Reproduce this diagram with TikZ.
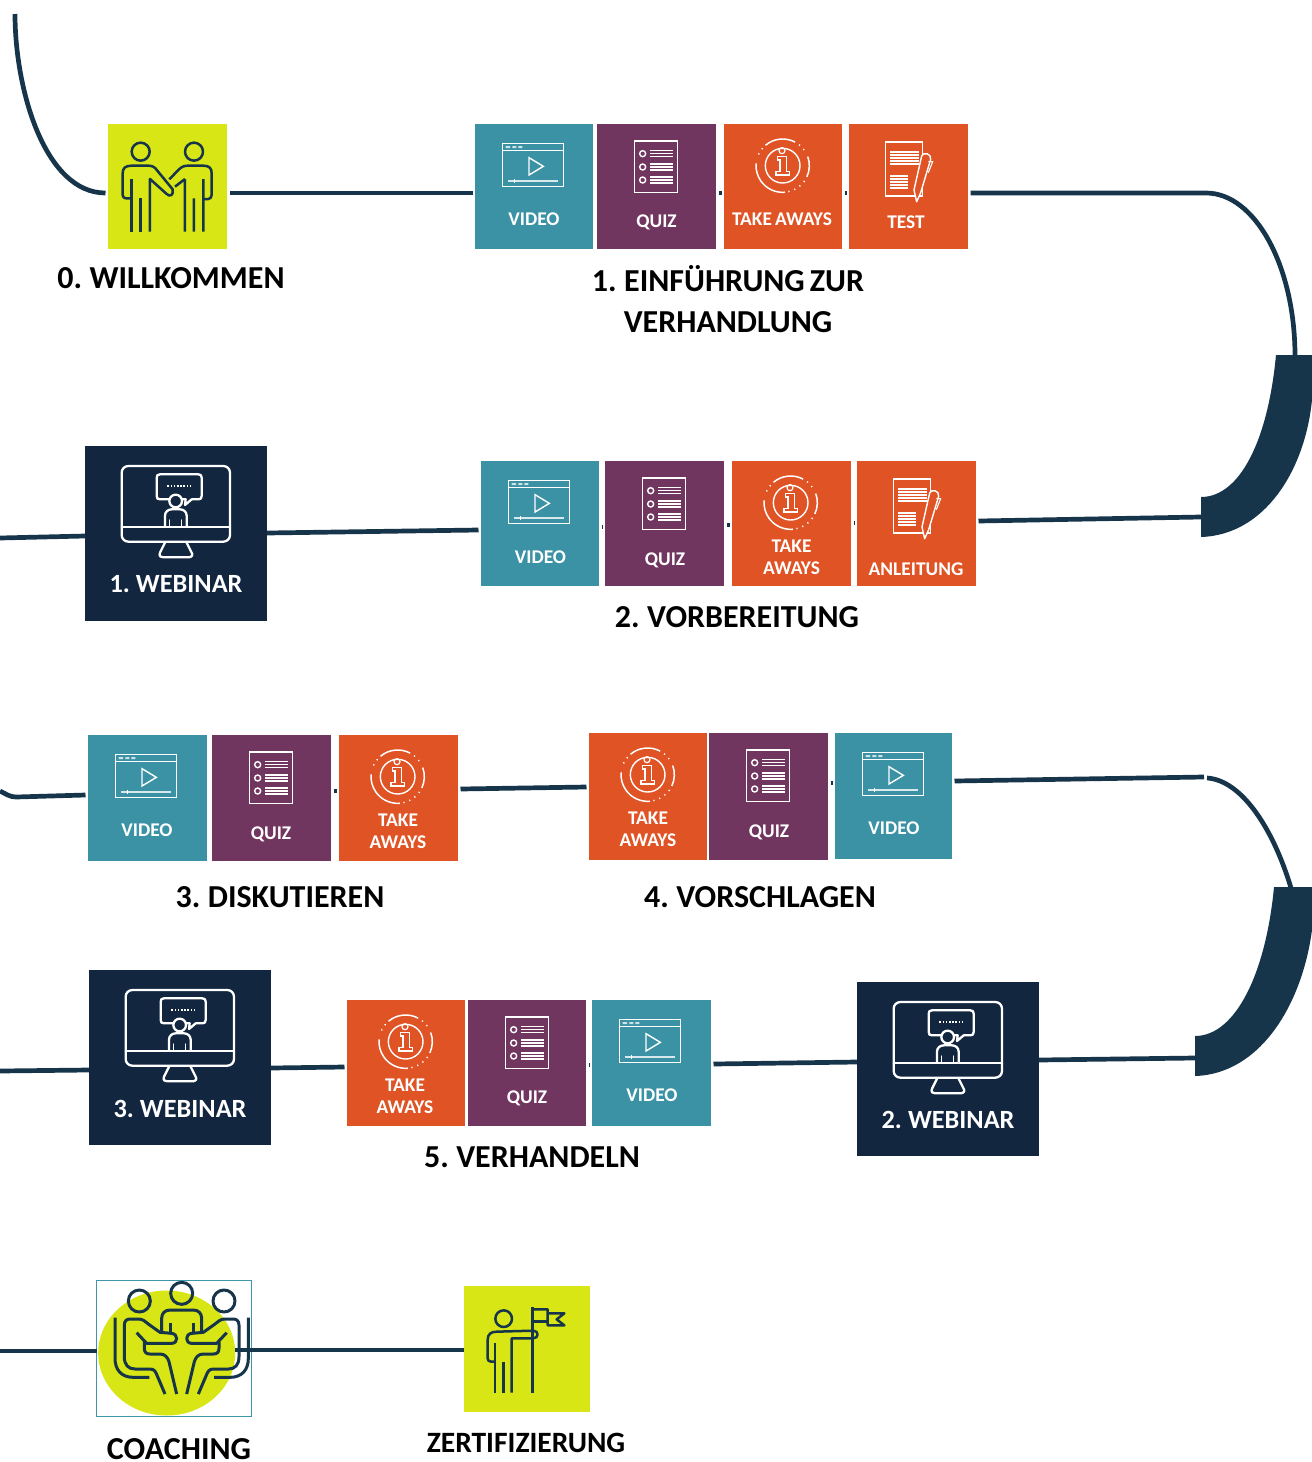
\documentclass[tikz,border=0pt]{standalone}
\usepackage{fontspec}
\setmainfont[WordSpace=0.7]{Carlito}
\usetikzlibrary{calc,shapes.geometric}
\definecolor{cline}{HTML}{17354A}
\definecolor{cvideo}{HTML}{3A92A4}
\definecolor{cquiz}{HTML}{71365F}
\definecolor{corange}{HTML}{E05324}
\definecolor{cdark}{HTML}{12263F}
\definecolor{clime}{HTML}{D7E614}
\definecolor{cframe}{HTML}{3E97A8}
\tikzset{
  tilebox/.style={inner sep=0pt,outer sep=2.5pt,minimum width=#1},
  tilebox/.default=119pt,
  flush/.style={outer sep=0pt},
  conn/.style={draw=cline,line width=4.7pt},
  wedge/.style={fill=cline},
  ticon/.style={draw=white,line width=1.4pt,line join=miter},
  wicon/.style={draw=white,line width=2.3pt,line join=round,line cap=round},
  dicon/.style={draw=cline,line width=2.5pt,line join=round},
  cicon/.style={draw=cline,line width=3pt,line join=round},
  head/.style={font=\fontsize{32}{41}\selectfont\bfseries,text=black,inner sep=0pt,align=center},
  tlab/.style={font=\fontsize{19.4}{22}\selectfont\bfseries,text=white,inner sep=0pt,align=center},
  wlab/.style={font=\fontsize{26.3}{28}\selectfont\bfseries,text=white,inner sep=0pt},
}
% name, x, y, w, h, colour, extra options
\newcommand{\tilerect}[7][]{\node[tilebox=#5pt,minimum height=#6pt,fill=#7,#1] (#2) at ({#3+#5/2},{#4+#6/2}) {};}
\newcommand{\iconvideo}[2]{\begin{scope}[shift={({#1-5},{#2-4})},scale=0.33333]
  \draw[ticon] (97,70) rectangle (281,199);
  \draw[ticon] (97,92) -- (281,92);
  \fill[white,opacity=.75] (107,78) rectangle (120,84) (127,78) rectangle (139,84) (145,78) rectangle (157,84);
  \draw[ticon] (177,113) -- (177,165) -- (220,139) -- cycle;
  \draw[ticon,opacity=.8,line width=1.7pt] (115,182) -- (265,182);
  \draw[ticon,line width=1.2pt] (133,176) -- (133,189);
\end{scope}}
\newcommand{\iconquiz}[2]{\begin{scope}[shift={({#1-127},{#2-4})},scale=0.33333]
  \draw[ticon] (493,63) rectangle (623,217);
  \foreach \yy in {101,141,180}{
    \draw[ticon] (518,\yy) circle[radius=9];
    \foreach \dd in {-9,0,9}{\draw[white,line width=1.5pt] (540,{\yy+\dd}) -- (609,{\yy+\dd});}
  }
\end{scope}}
\newcommand{\icontake}[2]{\begin{scope}[shift={({#1-254},{#2-4})},scale=0.33333]
  \draw[ticon] (938,137) circle[radius=52];
  \draw[white,line width=1.5pt] (938,137) ++(-130:80) arc[start angle=-130,end angle=-62,radius=80];
  \draw[white,line width=1.5pt] (938,137) ++(-20:80) arc[start angle=-20,end angle=25,radius=80];
  \draw[white,line width=1.5pt] (938,137) ++(85:80) arc[start angle=85,end angle=185,radius=80];
  \draw[white,line width=1.5pt,dash pattern=on 1.2pt off 5pt] (938,137) ++(-52:80) arc[start angle=-52,end angle=-28,radius=80];
  \draw[white,line width=1.5pt,dash pattern=on 1.2pt off 5pt] (938,137) ++(35:80) arc[start angle=35,end angle=80,radius=80];
  \draw[white,line width=1.5pt,dash pattern=on 1.2pt off 5pt] (938,137) ++(-155:80) arc[start angle=-155,end angle=-135,radius=80];
  \draw[ticon,line width=1.2pt] (936,92) circle[radius=9];
  \draw[ticon,line width=1.2pt] (923,110) -- (950,110) -- (950,155) -- (958,155) -- (958,165) -- (918,165) -- (918,155) -- (930,155) -- (930,120) -- (923,120) -- cycle;
\end{scope}}
\newcommand{\icontest}[3]{\begin{scope}[shift={({#1-379},{#2-4})},scale=0.33333]
  \draw[ticon] (1247,66) rectangle (1358,228);
  \foreach \yy in {96,105,114,123,132}{\draw[white,line width=1.5pt] (1260,\yy) -- (1348,\yy);}
  \foreach \yy in {168,177,186,195,204}{\draw[white,line width=1.5pt] (1260,\yy) -- (1314,\yy);}
  \draw[ticon,fill=#3,line join=round] (1340,245) -- (1332,210) -- (1355,108) .. controls (1360,95) and (1385,100) .. (1382,118) -- (1352,218) -- cycle;
  \draw[ticon,line width=1.1pt] (1375,125) -- (1388,125) -- (1375,158);
\end{scope}}
\newcommand{\iconweb}[2]{\begin{scope}[shift={({#1-5},{#2-6})},scale=0.33333]
  \draw[wicon] (145,78) -- (430,78) arc[start angle=-90,end angle=0,radius=20] -- (450,285) arc[start angle=0,end angle=90,radius=20] -- (145,305) arc[start angle=90,end angle=180,radius=20] -- (125,98) arc[start angle=180,end angle=270,radius=20] -- cycle;
  \draw[wicon] (125,262) -- (450,262);
  \draw[wicon] (255,308) -- (240,338) .. controls (235,350) and (245,352) .. (250,352) -- (325,352) .. controls (335,352) and (340,345) .. (335,338) -- (320,308);
  \draw[wicon] (240,103) -- (355,103) .. controls (362,103) and (365,106) .. (365,113) -- (365,168) .. controls (365,175) and (362,178) .. (355,178) -- (335,178) -- (315,195) -- (317,178) -- (240,178) .. controls (233,178) and (230,175) .. (230,168) -- (230,113) .. controls (230,106) and (233,103) .. (240,103) -- cycle;
  \draw[wicon,fill=cdark] (287,183) circle[radius=19];
  \draw[wicon] (255,258) -- (255,227) .. controls (255,215) and (265,208) .. (275,208) -- (300,208) .. controls (310,208) and (320,215) .. (320,227) -- (320,258);
  \draw[wicon,line width=1.3pt] (268,240) -- (268,258) (305,240) -- (305,258);
  \draw[white,line width=2pt,dash pattern=on 1.6pt off 1.6pt] (262,137) -- (338,137);
\end{scope}}
\begin{document}
\begin{tikzpicture}[x=1pt,y=-1pt]
\useasboundingbox (0,0) rectangle (1312,1462);
\fill[white] (0,0) rectangle (1312,1462);
% tiles
\tilerect{wk}{108}{124}{119}{125}{clime}
\tilerect{v1}{475}{124}{118}{125}{cvideo}
\tilerect{q1}{597}{124}{119}{125}{cquiz}
\tilerect{a1}{724}{124}{118}{125}{corange}
\tilerect{t1}{849}{124}{119}{125}{corange}
\tilerect{v2}{481}{461}{118}{125}{cvideo}
\tilerect{q2}{605}{461}{119}{125}{cquiz}
\tilerect{a2}{732}{461}{119}{125}{corange}
\tilerect{t2}{857}{461}{119}{125}{corange}
\tilerect[flush]{w1}{85}{446}{182}{175}{cdark}
\tilerect{v3}{88}{735}{119}{126}{cvideo}
\tilerect{q3}{212}{735}{119}{126}{cquiz}
\tilerect{a3}{339}{735}{119}{126}{corange}
\tilerect{a4}{589}{733}{118}{127}{corange}
\tilerect{q4}{709}{733}{119}{127}{cquiz}
\tilerect{v4}{835}{733}{117}{126}{cvideo}
\tilerect[flush]{w3}{89}{970}{182}{175}{cdark}
\tilerect{a5}{347}{1000}{118}{126}{corange}
\tilerect{q5}{468}{1000}{118}{126}{cquiz}
\tilerect{v5}{592}{1000}{119}{126}{cvideo}
\tilerect[flush]{w2}{857}{982}{182}{174}{cdark}
\node[inner sep=0pt,outer sep=0pt,minimum width=137pt,minimum height=125pt,ellipse,fill=clime] (ce) at (166.7,1353) {};
\node[inner sep=0pt,outer sep=0pt,minimum width=155pt,minimum height=136pt,draw=cframe,line width=1.5pt] (co) at (174,1348.5) {};
\tilerect[flush]{ze}{464}{1286}{126}{126}{clime}
% free ends and wedge points
\coordinate (s0) at (15,14);
\coordinate (s1) at (0,538);
\coordinate (s2) at (16,797);
\coordinate (s2a) at (0,791);
\coordinate (s3) at (0,1071);
\coordinate (s4) at (0,1351);
\coordinate (b1) at (1206,193);
\coordinate (c1) at (1295,356);
\coordinate (e1) at (1201,517);
\coordinate (b2) at (1204,777);
\coordinate (b2a) at (1207,778);
\coordinate (c2) at (1291,888);
\coordinate (e2) at (1195,1058);
% connectors
\draw[conn] (s0) .. controls (15,90) and (45,193) .. (wk.west |- 0,193);
\draw[conn] (wk.east |- 0,193) -- (v1.west |- 0,193);
\draw[conn] (q1.east |- 0,193) -- (a1.west |- 0,193);
\draw[conn] (a1.east |- 0,193) -- (t1.west |- 0,193);
\draw[conn] (t1.east |- 0,193) -- (b1) .. controls (1255,193) and (1295,266) .. (c1);
\draw[conn] (t2.east |- 0,521) -- (e1);
\draw[conn] (a2.east |- 0,523) -- (t2.west |- 0,523);
\draw[conn] (q2.east |- 0,525) -- (a2.west |- 0,525);
\draw[conn] (v2.east |- 0,527) -- (q2.west |- 0,527);
\draw[conn] (w1.east |- 0,533) -- (v2.west |- 0,530);
\draw[conn] (s1) -- (w1.west |- 0,536);
\draw[conn] (s2a) .. controls (6,794) and (10,797) .. (s2) -- (v3.west |- 0,795);
\draw[conn] (a3.east |- 0,789) -- (a4.west |- 0,787);
\draw[conn] (v4.east |- 0,781) -- (b2);
\draw[conn] (b2a) .. controls (1240,780) and (1272,825) .. (c2);
\draw[conn] (w2.east |- 0,1060) -- (e2);
\draw[conn] (v5.east |- 0,1064) -- (w2.west |- 0,1062);
\draw[conn] (w3.east |- 0,1068) -- (a5.west |- 0,1067);
\draw[conn] (s3) -- (w3.west |- 0,1070);
\draw[conn] (s4) -- (co.west |- 0,1351);
\draw[conn] (ce.east |- 0,1350) -- (ze.west |- 0,1350);
\draw[conn] (q3.east |- 0,791) -- (a3.west |- 0,791);
\draw[conn] (q4.east |- 0,783) -- (v4.west |- 0,783);
\draw[conn] (q5.east |- 0,1065) -- (v5.west |- 0,1065);
% wedges
\fill[wedge] (1276,355) .. controls (1268,440) and (1240,497) .. (1201,497) -- (1201,537) .. controls (1265,535) and (1305,470) .. (1312,400) -- (1312,355) -- cycle;
\fill[wedge] (1274,887) .. controls (1266,972) and (1236,1036) .. (1195,1036) -- (1195,1076) .. controls (1260,1074) and (1302,1005) .. (1312,930) -- (1312,887) -- cycle;
% icons
\iconvideo{475}{124}\iconquiz{597}{124}\icontake{724}{124}\icontest{849}{124}{corange}
\iconvideo{481}{461}\iconquiz{605}{461}\icontake{732}{461}\icontest{857}{461}{corange}
\iconvideo{88}{735}\iconquiz{212}{735}\icontake{339}{735}
\icontake{589}{733}\iconquiz{709}{733}\iconvideo{835}{733}
\icontake{347}{1000}\iconquiz{468}{1000}\iconvideo{592}{1000}
\iconweb{85}{446}\iconweb{89}{970}\iconweb{857}{982}
% handshake
\begin{scope}[shift={(0,100)},scale=0.33333]
  \draw[dicon] (422,155) circle[radius=27] (582,155) circle[radius=27];
  \draw[dicon] (390,295) -- (378,295) .. controls (372,295) and (368,291) .. (368,285) -- (368,220) .. controls (368,205) and (375,197) .. (395,197) -- (445,197) .. controls (458,197) and (465,202) .. (472,212) -- (518,268) .. controls (522,285) and (510,292) .. (500,282) -- (450,237) -- (450,395);
  \draw[dicon] (394,237) -- (394,395) (422,295) -- (422,395);
  \draw[dicon] (508,238) -- (535,210) .. controls (545,200) and (552,197) .. (565,197) -- (610,197) .. controls (628,197) and (635,205) .. (635,220) -- (635,285) .. controls (635,292) and (630,297) .. (625,297) -- (610,297);
  \draw[dicon] (610,237) -- (610,395) (582,295) -- (582,395) (555,237) -- (555,395) (555,237) -- (525,260);
\end{scope}
% coaching
\begin{scope}[shift={(85,1270)},scale=0.33333]
  \draw[cicon] (290,70) circle[radius=33];
  \draw[cicon] (230,185) -- (230,145) .. controls (230,130) and (240,120) .. (255,120) -- (325,120) .. controls (340,120) and (350,130) .. (350,145) -- (350,185);
  \draw[cicon] (255,160) -- (255,185) (325,160) -- (325,185);
  \foreach \mm/\oo in {1/0,-1/580}{
  \begin{scope}[shift={(\oo,0)},xscale=\mm]
    \draw[cicon] (163,93) circle[radius=33];
    \draw[cicon] (90,143) -- (90,265) .. controls (90,300) and (110,322) .. (145,322) -- (193,322);
    \draw[cicon] (118,165) .. controls (118,153) and (125,147) .. (135,147) -- (160,147) .. controls (175,147) and (180,155) .. (190,162) -- (225,187) -- (260,190) .. controls (280,192) and (280,220) .. (260,220) -- (185,220) -- (155,188);
    \draw[cicon] (118,165) -- (118,260) .. controls (118,285) and (130,297) .. (150,297) -- (195,297) .. controls (208,297) and (212,305) .. (217,318) -- (240,372);
    \draw[cicon] (178,215) -- (178,235) .. controls (178,248) and (185,252) .. (195,252) -- (225,252) .. controls (240,252) and (248,262) .. (252,275) -- (275,372);
  \end{scope}}
\end{scope}
% flag
\begin{scope}[shift={(455,1280)},scale=0.33333]
  \draw[dicon] (146,116) circle[radius=25];
  \draw[dicon] (120,245) -- (108,245) .. controls (101,245) and (98,240) .. (98,235) -- (98,180) .. controls (98,162) and (108,155) .. (125,155) -- (235,152) .. controls (252,152) and (252,175) .. (235,175) -- (170,175) -- (170,338);
  \draw[dicon] (120,190) -- (120,338) (146,245) -- (146,338) (233,82) -- (233,338);
  \draw[dicon] (233,88) -- (278,88) -- (278,136) -- (328,136) -- (305,118) -- (328,100) -- (278,100);
  \draw[dicon] (233,125) -- (278,125);
\end{scope}
% tile labels
\node[tlab] (lv1) at (534,219) {VIDEO};
\node[tlab] (lq1) at (656.5,222) {QUIZ};
\node[tlab] (la1) at (782,219) {TAKE AWAYS};
\node[tlab] (lt1) at (906,222) {TEST};
\node[tlab] (lv2) at (540.5,557) {VIDEO};
\node[tlab] (lq2) at (665,560) {QUIZ};
\node[tlab] (la2) at (791.5,557.5) {TAKE\\AWAYS};
\node[tlab] (lt2) at (916,569) {ANLEITUNG};
\node[tlab] (lv3) at (147,830) {VIDEO};
\node[tlab] (lq3) at (271,834) {QUIZ};
\node[tlab] (la3) at (398,831) {TAKE\\AWAYS};
\node[tlab] (la4) at (648,829.5) {TAKE\\AWAYS};
\node[tlab] (lq4) at (769,832) {QUIZ};
\node[tlab] (lv4) at (894,828) {VIDEO};
\node[tlab] (la5) at (405,1096) {TAKE\\AWAYS};
\node[tlab] (lq5) at (527,1098) {QUIZ};
\node[tlab] (lv5) at (652,1095) {VIDEO};
\node[wlab] (lw1) at (176,584) {1. WEBINAR};
\node[wlab] (lw3) at (180,1109) {3. WEBINAR};
\node[wlab] (lw2) at (948,1120) {2. WEBINAR};
% headings
\node[head] (h0) at (171,278) {0. WILLKOMMEN};
\node[head] (h1) at (728,299.5) {1. EINFÜHRUNG ZUR\\VERHANDLUNG};
\node[head] (h2) at (737,617) {2. VORBEREITUNG};
\node[head] (h3) at (280,897) {3. DISKUTIEREN};
\node[head] (h4) at (760,897) {4. VORSCHLAGEN};
\node[head] (h5) at (532,1157) {5. VERHANDELN};
\node[head] (h6) at (179,1449) {COACHING};
\node[head,font=\fontsize{29.5}{36}\selectfont\bfseries] (h7) at (526,1443) {ZERTIFIZIERUNG};
\end{tikzpicture}
\end{document}
